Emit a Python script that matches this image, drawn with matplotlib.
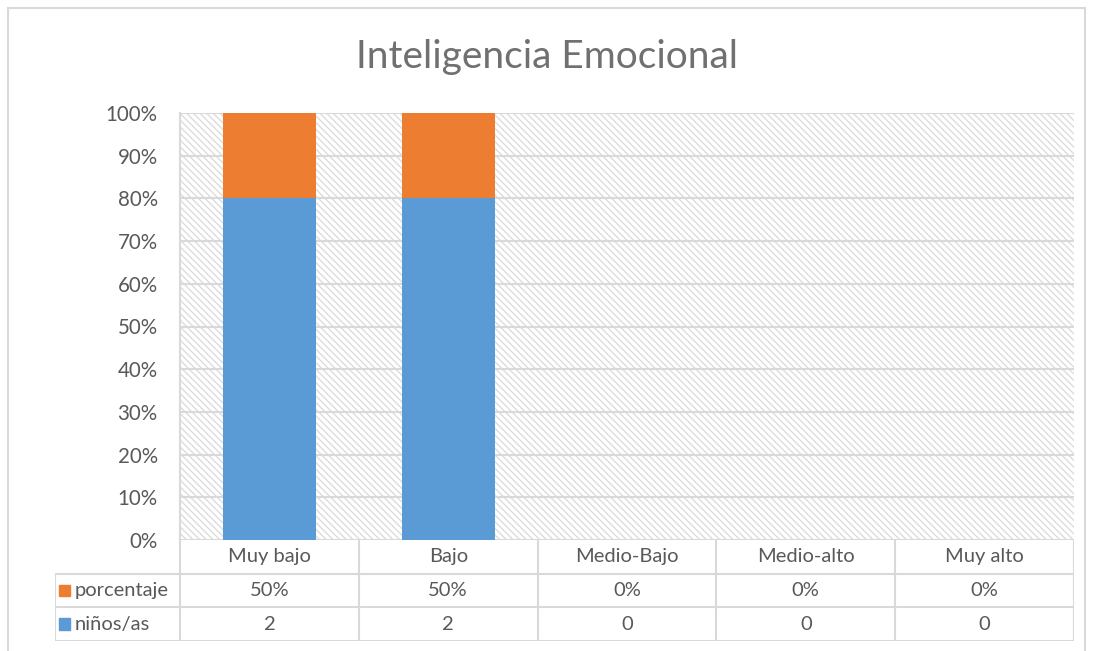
import numpy as np
import matplotlib.pyplot as plt
from matplotlib.patches import Rectangle

categories = ['Muy bajo', 'Bajo', 'Medio-Bajo', 'Medio-alto', 'Muy alto']
ninos = [2, 2, 0, 0, 0]
porcentaje = [0.5, 0.5, 0, 0, 0]
porcentaje_labels = ['50%', '50%', '0%', '0%', '0%']
ninos_labels = ['2', '2', '0', '0', '0']
series_names = ['porcentaje', 'niños/as']

blue = '#5B9BD5'
orange = '#ED7D31'
grid = '#D9D9D9'
text_col = '#595959'

plt.rcParams['font.family'] = ['Lato', 'DejaVu Sans']
plt.rcParams['hatch.linewidth'] = 1.0

W, H = 1094, 651
fig = plt.figure(figsize=(W / 100, H / 100), dpi=100)

# chart border
fig.patches.append(Rectangle((8 / W, -0.01), 1077 / W, (H - 8) / H + 0.01, transform=fig.transFigure,
                             fill=False, edgecolor=grid, linewidth=1.5))

x0, x1, ytop, ybot = 180, 1074, 113, 540
ax = fig.add_axes([x0 / W, (H - ybot) / H, (x1 - x0) / W, (ybot - ytop) / H])

tot = np.array(ninos, float) + np.array(porcentaje, float)
safe = np.where(tot > 0, tot, 1)
share_n = np.array(ninos) / safe
share_p = np.array(porcentaje) / safe

x = np.arange(len(categories))
ax.add_patch(Rectangle((0, 0), 1, 1, transform=ax.transAxes, facecolor='white',
                       edgecolor='#DDDDDD', linewidth=0, hatch='\\' * 5, zorder=0))
ax.bar(x, share_n, width=0.52, color=blue, zorder=2)
ax.bar(x, share_p, bottom=share_n, width=0.52, color=orange, zorder=2)

ax.set_xlim(-0.5, 4.5)
ax.set_ylim(0, 1)
ax.set_yticks(np.linspace(0, 1, 11))
ax.set_yticklabels([f'{int(round(v * 100))}%' for v in np.linspace(0, 1, 11)])
ax.tick_params(axis='y', length=0, pad=16, labelsize=14.8, labelcolor=text_col)
ax.set_xticks([])
for v in np.linspace(0, 1, 11):
    ax.axhline(v, color=grid, linewidth=1.5, zorder=1)
for s in ['top', 'right', 'bottom']:
    ax.spines[s].set_visible(False)
ax.spines['left'].set_color(grid)
ax.spines['left'].set_linewidth(1.5)
ax.set_facecolor('none')

fig.text(0.5, (H - 57) / H, 'Inteligencia Emocional', ha='center', va='center',
         fontsize=28, color='#707070')

# data table
tl = 55
tab = fig.add_axes([tl / W, (H - 641) / H, (x1 - tl) / W, (641 - ybot) / H])
left_ext = (x0 - tl) / ((x1 - x0) / 5)
tab.set_xlim(-0.5 - left_ext, 4.5)
tab.set_ylim(3, 0)
tab.axis('off')
lw = 1.5
for i in range(6):
    tab.plot([i - 0.5, i - 0.5], [0, 3], color=grid, lw=lw)
tab.plot([-0.5 - left_ext] * 2, [1, 3], color=grid, lw=lw)
for r in [1, 2, 3]:
    tab.plot([-0.5 - left_ext, 4.5], [r, r], color=grid, lw=lw)
for i, c in enumerate(categories):
    tab.text(i, 0.5, c, ha='center', va='center', fontsize=14.5, color=text_col)
    tab.text(i, 1.5, porcentaje_labels[i], ha='center', va='center', fontsize=14.5, color=text_col)
    tab.text(i, 2.5, ninos_labels[i], ha='center', va='center', fontsize=14.5, color=text_col)
kx = -0.5 - left_ext + 0.02
for r, (name, col) in enumerate(zip(series_names, [orange, blue])):
    tab.add_patch(Rectangle((kx, 1.5 + r - 0.17), 0.065, 0.34, color=col))
    tab.text(kx + 0.09, 1.5 + r, name, ha='left', va='center', fontsize=14.5, color=text_col)

fig.savefig('out.png', dpi=100)
